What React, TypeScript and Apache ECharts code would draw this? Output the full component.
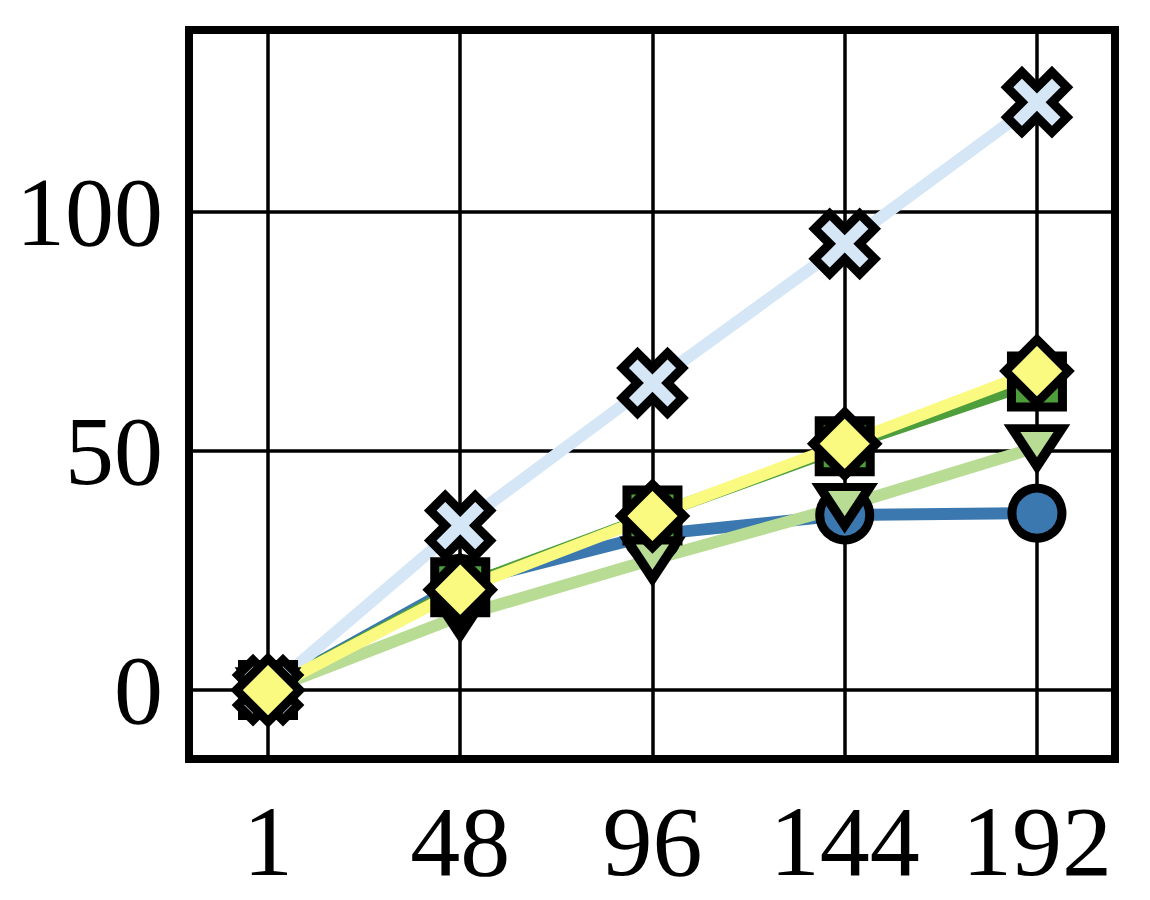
import React, { useEffect, useRef } from "react";
import * as echarts from "echarts";

const xLabels = ["1", "48", "96", "144", "192"];
const xTickPos = [0, 1, 2, 3, 4];
const yTicks = [0, 50, 100];

const seriesNames = ["S1", "S2", "S3", "S4", "S5"];
const blueCircle = [0, 22.3, 32.5, 36.6, 37.0];
const greenSquare = [0, 21.5, 36.5, 51.0, 64.5];
const lightGreenTri = [0, 15.5, 27.3, 38.5, 50.8];
const lightBlueX = [0, 34.4, 64.2, 93.3, 122.9];
const yellowDiamond = [0, 21.0, 36.4, 51.5, 66.7];

const X_PATH =
  "path://M6,0L8,2L6,4L8,6L6,8L4,6L2,8L0,6L2,4L0,2L2,0L4,2Z";

export default function App() {
  const ref = useRef<HTMLDivElement>(null);
  useEffect(() => {
    if (!ref.current) return;
    const chart = echarts.init(ref.current, null, { renderer: "svg" });
    const toPts = (arr: number[]) => arr.map((v, i) => [i, v]);
    const mk = (
      name: string,
      data: number[],
      color: string,
      symbol: string,
      symbolSize: any,
      extra: any = {}
    ) => ({
      name,
      type: "line",
      data: toPts(data),
      symbol,
      symbolSize,
      showAllSymbol: true,
      lineStyle: { color, width: 12 },
      itemStyle: {
        color,
        borderColor: "#000",
        borderWidth: 9,
        borderJoin: "miter",
      },
      emphasis: { disabled: true },
      ...extra,
    });
    chart.setOption({
      animation: false,
      backgroundColor: "#fff",
      textStyle: { fontFamily: "Liberation Serif" },
      grid: {
        left: 189,
        right: 35,
        top: 30,
        bottom: 141,
        outerBoundsMode: "none",
        containLabel: false,
        show: true,
        borderColor: "#000",
        borderWidth: 8,
        backgroundColor: "transparent",
      },
      xAxis: {
        type: "value",
        min: -0.411,
        max: 4.406,
        axisLine: { show: false },
        axisTick: { show: false, customValues: xTickPos },
        splitLine: { show: true, lineStyle: { color: "#000", width: 3.5 } },
        axisLabel: {
          customValues: xTickPos,
          fontFamily: "Liberation Serif",
          fontSize: 100,
          lineHeight: 80,
          color: "#000",
          margin: 42,
          formatter: (v: number) => {
            const r = Math.round(v);
            return r >= 0 && r < xLabels.length ? xLabels[r] : "";
          },
        },
      },
      yAxis: {
        type: "value",
        min: -14.4,
        max: 138,
        axisLine: { show: false },
        axisTick: { show: false, customValues: yTicks },
        splitLine: { show: true, lineStyle: { color: "#000", width: 3.5 } },
        axisLabel: {
          customValues: yTicks,
          fontFamily: "Liberation Serif",
          fontSize: 98,
          color: "#000",
          margin: 26,
          formatter: (v: number) => String(Math.round(v)),
        },
      },
      series: [
        mk(seriesNames[0], blueCircle, "#3b78b0", "circle", 50),
        mk(seriesNames[1], greenSquare, "#4e9e3c", "rect", 51),
        mk(seriesNames[2], lightGreenTri, "#b8dc94", "triangle", [50, 38], {
          symbolRotate: 180,
        }),
        mk(seriesNames[3], lightBlueX, "#d5e7f7", X_PATH, 60),
        mk(seriesNames[4], yellowDiamond, "#fbfa80", "diamond", 63),
      ],
    });
    return () => chart.dispose();
  }, []);
  return (
    <div
      ref={ref}
      style={{ position: "fixed", left: 0, top: 0, width: 1150, height: 900 }}
    />
  );
}
